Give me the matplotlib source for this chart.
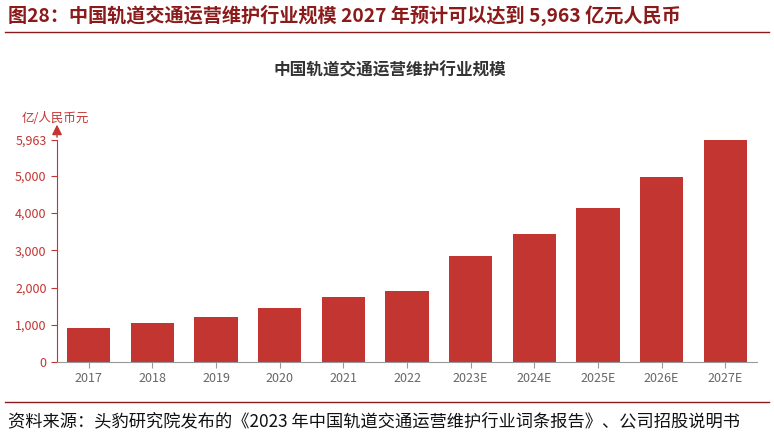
import matplotlib
matplotlib.use("Agg")
import matplotlib.pyplot as plt

plt.rcParams['font.family'] = ['Noto Sans CJK SC', 'DejaVu Sans']

years = ["2017","2018","2019","2020","2021","2022","2023E","2024E","2025E","2026E","2027E"]
values = [914, 1048, 1210, 1450, 1747, 1908, 2850, 3440, 4140, 4973, 5963]
yticks = [0, 1000, 2000, 3000, 4000, 5000, 5963]
ytick_labels = ["0", "1,000", "2,000", "3,000", "4,000", "5,000", "5,963"]

W, H = 774, 437
fig = plt.figure(figsize=(W/100, H/100), dpi=100)
ax = fig.add_axes([57/W, 1-362/H, 700/W, (362-140)/H])

red = "#C23531"
ax.bar(range(len(years)), values, width=0.68, color=red, zorder=2)
ax.set_xlim(-0.5, len(years)-0.5)
ax.set_ylim(0, 5963)
ax.set_yticks(yticks)
ax.set_yticklabels(ytick_labels, fontsize=9, color="#D0524F")
ax.set_xticks(range(len(years)))
ax.set_xticklabels(years, fontsize=9, color="#666666")
for s in ["top", "right"]:
    ax.spines[s].set_visible(False)
ax.spines["left"].set_color(red)
ax.spines["bottom"].set_color("#999999")
ax.tick_params(axis="y", colors=red, length=4, labelcolor=red)
ax.tick_params(axis="x", length=4, colors="#999999", labelcolor="#666666")
ax.annotate("", xy=(-0.5, 6450), xytext=(-0.5, 5963), xycoords="data",
            arrowprops=dict(arrowstyle="-|>,head_length=0.6,head_width=0.3", color=red, lw=1),
            annotation_clip=False)
fig.text(22/W, 1-118/H, "亿/人民币元", fontsize=9, color=red, va="center")

fig.text(390/W, 1-70/H, "中国轨道交通运营维护行业规模", fontsize=12, fontweight="bold",
         color="#333333", ha="center", va="center")

fig.text(8/W, 1-15/H, "图28：中国轨道交通运营维护行业规模 2027 年预计可以达到 5,963 亿元人民币",
         fontsize=13.8, fontweight="bold", color="#8B1A1A", va="center")
fig.add_artist(plt.Line2D([5/W, 769/W], [1-32/H, 1-32/H], color="#8B1A1A", lw=1))
fig.add_artist(plt.Line2D([5/W, 769/W], [1-402/H, 1-402/H], color="#8B1A1A", lw=1))
fig.text(8/W, 1-421/H, "资料来源：头豹研究院发布的《2023 年中国轨道交通运营维护行业词条报告》、公司招股说明书",
         fontsize=12.4, color="#111111", va="center")

fig.savefig("out.png", dpi=100)
